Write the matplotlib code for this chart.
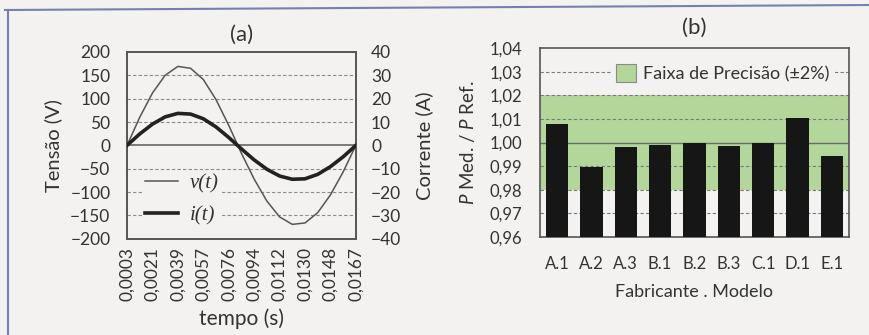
import numpy as np
import matplotlib.pyplot as plt
from matplotlib.patches import Patch
from matplotlib.lines import Line2D

plt.rcParams['font.family'] = ['Lato', 'DejaVu Sans']
plt.rcParams['mathtext.fontset'] = 'custom'
plt.rcParams['mathtext.it'] = 'Lato:italic'
plt.rcParams['mathtext.rm'] = 'Lato'

# (a) tensão e corrente ao longo de um ciclo
tempo = ['0,0003', '0,0021', '0,0039', '0,0057', '0,0076',
         '0,0094', '0,0112', '0,0130', '0,0148', '0,0167']
tensao = [0, 60, 112, 150, 169, 165, 141, 98, 43, -17,
          -72, -119, -153, -169, -166, -144, -106, -57, 0]
corrente = [0, 4.9, 9.1, 12.2, 13.7, 13.4, 11.4, 7.9, 3.4, -1.5,
            -6.2, -10.2, -13.1, -14.5, -14.3, -12.4, -9.1, -4.9, 0]

# (b) razão potência medida / referência
modelos = ['A.1', 'A.2', 'A.3', 'B.1', 'B.2', 'B.3', 'C.1', 'D.1', 'E.1']
razao = [1.0079, 0.9895, 0.9981, 0.9989, 0.9996, 0.9984, 0.9997, 1.0104, 0.9945]

bg = '#f3f2f0'
txt = '#333333'
verde = '#b3d79b'

fig = plt.figure(figsize=(8.7, 3.35), dpi=100, facecolor=bg)

# ---------- (a) ----------
ax = fig.add_axes([0.146, 0.287, 0.263, 0.558], facecolor='none')
ax2 = ax.twinx()
x = np.arange(len(tensao))
ax.set_xlim(0, len(tensao) - 1)
ax.set_ylim(-200, 200)
ax2.set_ylim(-40, 40)
for g in [-150, -100, -50, 50, 100, 150]:
    ax.axhline(g, color='#8a8a8a', lw=0.8, ls=(0, (3, 2)), zorder=1)
ax.axhline(0, color='#666666', lw=1.2, zorder=1)
lv, = ax.plot(x, tensao, color='#555555', lw=1.1, zorder=3)
li, = ax2.plot(x, corrente, color='#222222', lw=2.6, zorder=3)
ax.set_yticks(np.arange(-200, 201, 50))
ax2.set_yticks(np.arange(-40, 41, 10))
ax.set_xticks(x[::2])
ax.set_xticklabels(tempo, rotation=90)
for a in (ax, ax2):
    a.tick_params(length=0, labelsize=12.5, labelcolor=txt)
    for s in a.spines.values():
        s.set_color('#555555')
        s.set_linewidth(1.2)
ax.tick_params(axis='x', pad=6)
ax.tick_params(axis='y', pad=12)
ax2.tick_params(axis='y', pad=11)
ax.set_ylabel('Tensão (V)', fontsize=14.5, color=txt, labelpad=6)
ax2.set_ylabel('Corrente (A)', fontsize=14.5, color=txt, rotation=90, labelpad=10)
ax.set_xlabel('tempo (s)', fontsize=15, color=txt, labelpad=5)
ax.set_title('(a)', fontsize=16, color=txt, pad=8)
leg = ax2.legend([lv, li], ['v(t)', 'i(t)'], loc='lower left',
                 bbox_to_anchor=(0.02, 0.0), frameon=True, handlelength=1.6,
                 prop={'family': 'Liberation Serif', 'style': 'italic', 'size': 15},
                 labelspacing=0.6, borderpad=0.15, handletextpad=0.55)
leg.get_frame().set_facecolor(bg)
leg.get_frame().set_edgecolor('none')
leg.get_frame().set_alpha(1)
for t in leg.get_texts():
    t.set_color(txt)

# ---------- (b) ----------
bx = fig.add_axes([0.6207, 0.2925, 0.355, 0.564], facecolor=bg)
bx.set_ylim(0.96, 1.04)
bx.set_xlim(-0.5, len(modelos) - 0.5)
bx.axhspan(0.98, 1.02, color=verde, zorder=0, lw=0)
for g in [0.97, 0.98, 0.99, 1.01, 1.02, 1.03]:
    bx.axhline(g, color='#7a7a7a', lw=0.8, ls=(0, (3, 2)), zorder=1)
bx.axhline(1.0, color='#6a6a6a', lw=1.0, zorder=1)
bx.bar(modelos, razao, width=0.65, bottom=0, color='#161616', zorder=3)
yt = np.round(np.arange(0.96, 1.0401, 0.01), 2)
bx.set_yticks(yt)
bx.set_yticklabels([f'{v:.2f}'.replace('.', ',') for v in yt])
bx.tick_params(length=0, labelsize=12, labelcolor=txt)
bx.tick_params(axis='x', pad=14)
bx.tick_params(axis='y', pad=13)
for s in bx.spines.values():
    s.set_color('#555555')
    s.set_linewidth(1.2)
bx.set_ylabel(r'$P$ Med. / $P$ Ref.', fontsize=13.5, color=txt, labelpad=9)
bx.set_xlabel('Fabricante . Modelo', fontsize=13, color=txt, labelpad=8)
bx.set_title('(b)', fontsize=16, color=txt, pad=10)
leg2 = bx.legend([Patch(facecolor=verde, edgecolor='#8a8a8a', lw=0.8)],
                 ['Faixa de Precisão (±2%)'], loc='upper right',
                 bbox_to_anchor=(0.985, 0.99), fontsize=13, handlelength=1.1,
                 handleheight=1.1, handletextpad=0.4, borderpad=0.3)
leg2.get_frame().set_facecolor(bg)
leg2.get_frame().set_edgecolor('none')
leg2.get_frame().set_alpha(1)
for t in leg2.get_texts():
    t.set_color(txt)

# moldura azul da página
fig.add_artist(Line2D([5 / 870, 1.0], [1 - 10 / 335, 1 - 5 / 335],
                      color='#7281b0', lw=1.5))
fig.add_artist(Line2D([8 / 870, 8 / 870], [1 - 10 / 335, 0.0],
                      color='#7281b0', lw=1.5))

fig.savefig('out.png', dpi=100, facecolor=bg)
